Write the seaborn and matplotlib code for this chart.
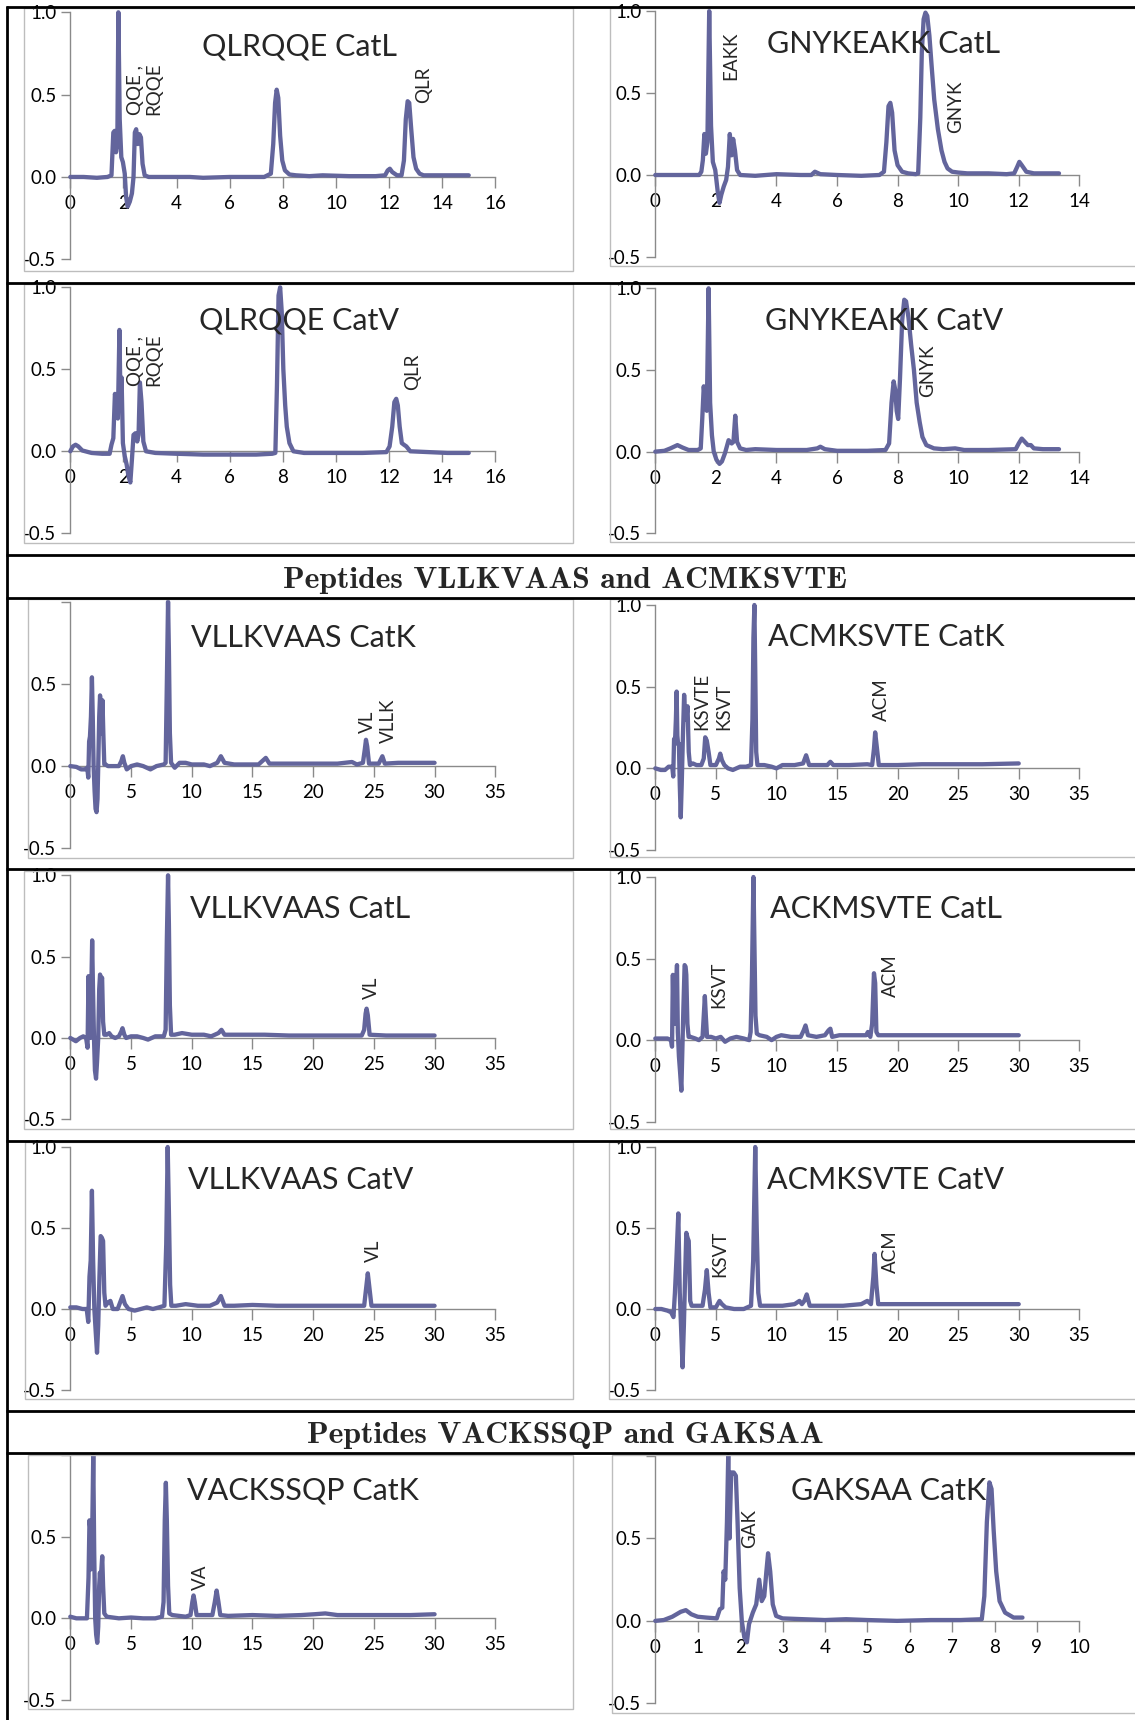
import matplotlib
matplotlib.use("Agg")
import matplotlib.pyplot as plt
from matplotlib.lines import Line2D
from matplotlib.patches import Rectangle
import pandas as pd
import seaborn as sns

# ---------------------------------------------------------------------------
# Chromatogram traces: (retention time [min], normalised absorbance)
# ---------------------------------------------------------------------------
qlrqqe_catl = [
    (0.0, 0.0), (0.5, 0.0), (1.0, -0.005), (1.4, 0.0), (1.55, 0.01), (1.62, 0.27), (1.67, 0.28),
    (1.72, 0.15), (1.77, 0.2), (1.81, 1.0), (1.86, 0.35), (1.92, 0.12), (1.98, 0.09), (2.05, 0.02),
    (2.1, -0.12), (2.16, -0.18), (2.24, -0.15), (2.32, -0.1), (2.38, 0.0), (2.43, 0.27), (2.48, 0.29),
    (2.54, 0.2), (2.6, 0.26), (2.66, 0.24), (2.72, 0.08), (2.8, 0.01), (2.95, 0.0), (3.5, 0.0),
    (4.5, 0.0), (5.0, -0.005), (6.0, 0.0), (7.3, 0.0), (7.55, 0.02), (7.64, 0.2), (7.71, 0.45),
    (7.77, 0.53), (7.83, 0.48), (7.9, 0.25), (7.98, 0.1), (8.08, 0.04), (8.25, 0.015), (8.5, 0.01),
    (9.0, 0.005), (9.5, 0.01), (10.5, 0.005), (11.5, 0.005), (11.85, 0.01), (11.95, 0.04),
    (12.03, 0.05), (12.12, 0.03), (12.3, 0.01), (12.47, 0.01), (12.56, 0.1), (12.63, 0.35),
    (12.7, 0.46), (12.76, 0.45), (12.83, 0.3), (12.92, 0.12), (13.02, 0.05), (13.15, 0.02),
    (13.3, 0.01), (14.0, 0.01), (15.0, 0.01),
]
gnykeakk_catl = [
    (0.0, 0.0), (0.6, 0.0), (1.2, 0.0), (1.45, 0.0), (1.52, 0.02), (1.57, 0.09), (1.62, 0.25),
    (1.67, 0.13), (1.72, 0.2), (1.78, 1.0), (1.84, 0.3), (1.9, 0.08), (1.98, 0.03), (2.06, -0.1),
    (2.12, -0.17), (2.18, -0.12), (2.26, -0.07), (2.34, -0.03), (2.4, 0.05), (2.46, 0.25),
    (2.52, 0.12), (2.57, 0.22), (2.63, 0.15), (2.7, 0.03), (2.8, 0.0), (3.3, -0.005), (4.0, 0.005),
    (4.8, 0.0), (5.15, 0.0), (5.27, 0.02), (5.45, 0.005), (6.0, 0.0), (6.8, -0.005), (7.4, 0.0),
    (7.55, 0.02), (7.63, 0.2), (7.7, 0.42), (7.76, 0.44), (7.82, 0.38), (7.9, 0.15), (8.0, 0.06),
    (8.15, 0.02), (8.35, 0.01), (8.6, 0.005), (8.68, 0.01), (8.75, 0.35), (8.8, 0.75), (8.86, 0.95),
    (8.92, 0.99), (8.98, 0.97), (9.05, 0.85), (9.13, 0.65), (9.21, 0.46), (9.33, 0.28), (9.45, 0.15),
    (9.55, 0.08), (9.65, 0.04), (9.8, 0.02), (10.0, 0.015), (10.3, 0.01), (11.0, 0.01),
    (11.6, 0.005), (11.85, 0.01), (11.95, 0.05), (12.02, 0.08), (12.1, 0.06), (12.25, 0.02),
    (12.5, 0.01), (13.0, 0.01), (13.33, 0.01),
]
qlrqqe_catv = [
    (0.0, 0.0), (0.1, 0.03), (0.2, 0.04), (0.3, 0.03), (0.45, 0.005), (0.8, -0.01), (1.2, -0.015),
    (1.48, -0.015), (1.55, 0.04), (1.62, 0.08), (1.68, 0.35), (1.74, 0.3), (1.79, 0.2), (1.85, 0.74),
    (1.89, 0.3), (1.93, 0.45), (1.98, 0.05), (2.05, -0.03), (2.12, -0.08), (2.19, -0.15),
    (2.26, -0.19), (2.32, -0.05), (2.38, 0.1), (2.45, 0.11), (2.52, 0.06), (2.57, 0.1), (2.62, 0.42),
    (2.68, 0.3), (2.75, 0.06), (2.85, 0.0), (3.2, -0.01), (4.0, -0.015), (5.0, -0.02), (6.0, -0.02),
    (7.0, -0.02), (7.6, -0.015), (7.72, -0.01), (7.78, 0.4), (7.84, 0.95), (7.9, 1.0), (7.96, 0.85),
    (8.02, 0.5), (8.09, 0.28), (8.15, 0.15), (8.25, 0.05), (8.4, 0.0), (8.8, -0.01), (10.0, -0.01),
    (11.0, -0.01), (11.9, -0.005), (12.02, 0.03), (12.12, 0.15), (12.2, 0.3), (12.27, 0.32),
    (12.33, 0.28), (12.4, 0.15), (12.48, 0.05), (12.56, 0.04), (12.65, 0.03), (12.8, 0.0),
    (13.5, -0.005), (14.2, -0.01), (15.0, -0.01),
]
gnykeakk_catv = [
    (0.0, 0.0), (0.3, 0.005), (0.5, 0.02), (0.73, 0.04), (0.9, 0.025), (1.1, 0.01), (1.4, 0.01),
    (1.5, 0.02), (1.55, 0.2), (1.6, 0.4), (1.65, 0.3), (1.7, 0.25), (1.76, 1.0), (1.81, 0.3),
    (1.87, 0.1), (1.93, 0.0), (2.02, -0.05), (2.12, -0.075), (2.2, -0.06), (2.3, -0.01),
    (2.42, 0.07), (2.52, 0.05), (2.58, 0.06), (2.64, 0.22), (2.7, 0.06), (2.8, 0.02), (3.0, 0.01),
    (3.3, 0.015), (4.0, 0.01), (5.0, 0.01), (5.35, 0.02), (5.45, 0.03), (5.6, 0.015), (6.0, 0.005),
    (7.0, 0.005), (7.6, 0.01), (7.72, 0.05), (7.8, 0.3), (7.87, 0.43), (7.92, 0.38), (7.97, 0.25),
    (8.02, 0.2), (8.08, 0.45), (8.15, 0.8), (8.22, 0.93), (8.28, 0.92), (8.36, 0.82), (8.45, 0.65),
    (8.54, 0.5), (8.63, 0.3), (8.73, 0.18), (8.82, 0.09), (8.95, 0.04), (9.2, 0.02), (9.5, 0.015),
    (9.9, 0.02), (10.2, 0.01), (11.0, 0.01), (11.9, 0.015), (12.0, 0.05), (12.1, 0.08), (12.2, 0.06),
    (12.3, 0.04), (12.4, 0.04), (12.5, 0.02), (12.8, 0.015), (13.33, 0.015),
]
vllkvaas_catk = [
    (0.0, 0.0), (0.5, -0.005), (0.9, -0.02), (1.2, -0.02), (1.4, -0.01), (1.48, -0.07), (1.55, 0.15),
    (1.62, 0.18), (1.7, 0.3), (1.78, 0.54), (1.85, 0.3), (1.92, 0.0), (2.0, -0.15), (2.08, -0.26),
    (2.16, -0.28), (2.24, -0.2), (2.3, 0.0), (2.38, 0.3), (2.45, 0.43), (2.52, 0.35), (2.6, 0.2),
    (2.65, 0.4), (2.72, 0.2), (2.8, 0.01), (2.9, 0.01), (3.1, 0.0), (3.5, 0.0), (4.0, 0.0),
    (4.2, 0.03), (4.33, 0.06), (4.45, 0.02), (4.65, -0.02), (5.0, 0.0), (5.5, 0.01), (6.0, 0.0),
    (6.6, -0.02), (7.1, 0.0), (7.7, 0.01), (7.85, 0.02), (7.95, 0.5), (8.05, 1.0), (8.12, 0.7),
    (8.2, 0.2), (8.3, 0.02), (8.6, -0.01), (9.0, 0.02), (9.5, 0.02), (10.0, 0.01), (11.0, 0.01),
    (11.5, 0.0), (12.1, 0.02), (12.4, 0.06), (12.7, 0.02), (13.5, 0.01), (14.5, 0.01), (15.5, 0.01),
    (16.1, 0.05), (16.4, 0.015), (18.0, 0.015), (20.0, 0.015), (22.0, 0.015), (23.2, 0.025),
    (23.6, 0.01), (24.1, 0.02), (24.25, 0.1), (24.35, 0.16), (24.45, 0.12), (24.6, 0.015),
    (25.4, 0.015), (25.7, 0.06), (25.9, 0.015), (27.0, 0.02), (28.5, 0.02), (30.0, 0.02),
]
acmksvte_catk = [
    (0.0, 0.0), (0.45, -0.01), (0.8, -0.01), (1.1, 0.01), (1.4, 0.01), (1.48, -0.05), (1.55, 0.18),
    (1.62, 0.15), (1.7, 0.3), (1.76, 0.47), (1.82, 0.2), (1.88, 0.15), (1.95, 0.15), (2.02, -0.1),
    (2.1, -0.3), (2.18, -0.1), (2.28, 0.2), (2.38, 0.45), (2.48, 0.3), (2.56, 0.3), (2.66, 0.38),
    (2.76, 0.1), (2.86, 0.02), (3.1, 0.03), (3.4, 0.02), (3.8, 0.02), (4.0, 0.06), (4.12, 0.19),
    (4.25, 0.17), (4.4, 0.1), (4.55, 0.02), (5.0, 0.02), (5.25, 0.06), (5.36, 0.09), (5.5, 0.05),
    (5.7, 0.02), (6.0, 0.0), (6.4, -0.01), (7.0, 0.01), (7.5, 0.01), (7.9, 0.02), (8.02, 0.3),
    (8.1, 0.8), (8.18, 1.0), (8.25, 0.6), (8.33, 0.1), (8.43, 0.02), (9.0, 0.02), (9.6, 0.01),
    (10.0, 0.0), (10.5, 0.02), (11.5, 0.02), (12.2, 0.03), (12.45, 0.08), (12.7, 0.02), (13.5, 0.02),
    (14.2, 0.02), (14.45, 0.04), (14.7, 0.02), (16.0, 0.02), (17.5, 0.025), (17.9, 0.02),
    (18.05, 0.12), (18.15, 0.22), (18.3, 0.12), (18.45, 0.02), (20.0, 0.02), (22.0, 0.025),
    (24.0, 0.025), (27.0, 0.025), (30.0, 0.03),
]
vllkvaas_catl = [
    (0.0, 0.0), (0.46, -0.02), (0.8, 0.0), (1.07, 0.01), (1.3, 0.0), (1.42, -0.06), (1.5, 0.38),
    (1.58, 0.05), (1.66, 0.0), (1.73, 0.3), (1.8, 0.6), (1.87, 0.3), (1.95, 0.0), (2.03, -0.2),
    (2.12, -0.25), (2.2, -0.15), (2.3, 0.0), (2.38, 0.3), (2.45, 0.39), (2.55, 0.35), (2.62, 0.37),
    (2.7, 0.1), (2.8, 0.02), (3.0, 0.02), (3.2, 0.03), (3.4, 0.01), (3.7, 0.0), (4.0, 0.01),
    (4.2, 0.04), (4.3, 0.06), (4.45, 0.02), (4.6, 0.0), (5.0, 0.01), (5.5, 0.01), (6.0, 0.0),
    (6.4, -0.01), (7.0, 0.01), (7.7, 0.01), (7.85, 0.05), (7.95, 0.6), (8.05, 1.0), (8.12, 0.7),
    (8.2, 0.2), (8.3, 0.02), (8.6, 0.02), (9.2, 0.03), (10.0, 0.02), (11.0, 0.02), (11.6, 0.01),
    (12.2, 0.03), (12.45, 0.05), (12.7, 0.02), (14.0, 0.02), (16.0, 0.02), (18.0, 0.015),
    (20.0, 0.015), (22.0, 0.015), (24.0, 0.015), (24.2, 0.05), (24.32, 0.15), (24.4, 0.18),
    (24.5, 0.14), (24.65, 0.02), (26.0, 0.015), (28.0, 0.015), (30.0, 0.015),
]
ackmsvte_catl = [
    (0.0, 0.01), (0.5, 0.01), (1.0, 0.01), (1.3, 0.0), (1.38, -0.04), (1.45, 0.4), (1.52, 0.1),
    (1.6, 0.1), (1.7, 0.3), (1.79, 0.46), (1.86, 0.05), (1.95, -0.1), (2.05, -0.2), (2.15, -0.31),
    (2.22, -0.1), (2.32, 0.2), (2.42, 0.46), (2.5, 0.45), (2.56, 0.4), (2.65, 0.1), (2.75, 0.02),
    (2.9, 0.02), (3.3, 0.01), (3.6, 0.0), (3.9, 0.02), (4.0, 0.15), (4.09, 0.27), (4.17, 0.15),
    (4.27, 0.02), (4.6, 0.02), (5.0, 0.01), (5.4, 0.02), (5.76, -0.01), (6.2, 0.01), (6.7, 0.02),
    (7.3, 0.01), (7.75, 0.0), (7.87, 0.05), (7.98, 0.4), (8.1, 1.0), (8.18, 0.6), (8.27, 0.15),
    (8.38, 0.04), (8.6, 0.03), (9.2, 0.02), (9.6, 0.0), (10.0, 0.02), (10.4, 0.03), (11.2, 0.02),
    (12.0, 0.02), (12.25, 0.06), (12.4, 0.09), (12.6, 0.03), (13.3, 0.02), (14.0, 0.03),
    (14.3, 0.06), (14.45, 0.07), (14.6, 0.02), (15.2, 0.03), (16.5, 0.03), (17.4, 0.03),
    (17.55, 0.05), (17.75, 0.02), (17.9, 0.1), (18.05, 0.41), (18.15, 0.35), (18.25, 0.05),
    (18.4, 0.03), (20.0, 0.03), (22.0, 0.03), (25.0, 0.03), (28.0, 0.03), (30.0, 0.03),
]
vllkvaas_catv = [
    (0.0, 0.01), (0.5, 0.01), (1.0, 0.0), (1.35, 0.0), (1.48, -0.08), (1.58, 0.2), (1.68, 0.3),
    (1.78, 0.73), (1.88, 0.3), (1.98, 0.0), (2.1, -0.15), (2.2, -0.27), (2.3, -0.1), (2.4, 0.2),
    (2.5, 0.45), (2.6, 0.44), (2.7, 0.42), (2.8, 0.1), (2.9, 0.02), (3.1, 0.04), (3.3, 0.05),
    (3.5, 0.0), (3.9, 0.0), (4.1, 0.04), (4.3, 0.08), (4.5, 0.03), (4.8, 0.0), (5.3, -0.01),
    (5.8, 0.0), (6.3, 0.01), (6.8, 0.0), (7.3, 0.01), (7.75, 0.02), (7.9, 0.4), (8.02, 1.0),
    (8.12, 0.6), (8.22, 0.15), (8.32, 0.02), (8.7, 0.02), (9.5, 0.03), (10.5, 0.02), (11.5, 0.02),
    (12.1, 0.04), (12.4, 0.08), (12.7, 0.02), (13.5, 0.02), (15.0, 0.025), (17.0, 0.02),
    (19.0, 0.02), (21.0, 0.02), (23.0, 0.02), (24.2, 0.02), (24.35, 0.12), (24.5, 0.22),
    (24.65, 0.12), (24.8, 0.02), (26.0, 0.02), (28.0, 0.02), (30.0, 0.02),
]
acmksvte_catv = [
    (0.0, 0.0), (0.5, 0.0), (1.0, -0.01), (1.3, -0.02), (1.5, -0.05), (1.62, 0.1), (1.74, 0.3),
    (1.9, 0.59), (2.02, 0.1), (2.12, -0.1), (2.25, -0.36), (2.36, -0.1), (2.46, 0.2), (2.56, 0.47),
    (2.66, 0.44), (2.76, 0.42), (2.88, 0.05), (3.0, 0.02), (3.5, 0.02), (3.9, 0.02), (4.1, 0.12),
    (4.25, 0.24), (4.4, 0.1), (4.55, 0.01), (5.0, 0.01), (5.3, 0.05), (5.5, 0.03), (5.8, 0.01),
    (6.5, 0.0), (7.3, 0.0), (7.9, 0.02), (8.08, 0.3), (8.25, 1.0), (8.37, 0.5), (8.5, 0.1),
    (8.65, 0.02), (9.5, 0.02), (10.5, 0.02), (11.5, 0.03), (11.9, 0.05), (12.1, 0.03), (12.3, 0.05),
    (12.5, 0.09), (12.75, 0.02), (14.0, 0.02), (15.5, 0.02), (17.0, 0.03), (17.5, 0.05),
    (17.8, 0.03), (18.0, 0.2), (18.1, 0.34), (18.25, 0.15), (18.4, 0.03), (20.0, 0.03),
    (22.0, 0.03), (25.0, 0.03), (28.0, 0.03), (30.0, 0.03),
]
vackssqp_catk = [
    (0.0, 0.01), (0.5, 0.0), (1.0, 0.0), (1.37, 0.0), (1.5, 0.25), (1.58, 0.6), (1.65, 0.55),
    (1.72, 0.3), (1.8, 0.5), (1.89, 1.0), (1.97, 0.4), (2.05, 0.0), (2.13, -0.1), (2.22, -0.15),
    (2.3, -0.05), (2.38, 0.2), (2.44, 0.28), (2.5, 0.2), (2.56, 0.3), (2.63, 0.38), (2.7, 0.2),
    (2.8, 0.03), (3.0, 0.01), (4.0, 0.0), (5.0, 0.005), (6.0, 0.0), (7.0, 0.0), (7.55, 0.01),
    (7.68, 0.1), (7.78, 0.6), (7.87, 0.83), (7.95, 0.6), (8.05, 0.2), (8.15, 0.03), (8.4, 0.02),
    (9.5, 0.01), (9.9, 0.02), (10.05, 0.1), (10.15, 0.14), (10.25, 0.1), (10.4, 0.02), (11.0, 0.02),
    (11.7, 0.02), (11.9, 0.1), (12.05, 0.17), (12.2, 0.1), (12.35, 0.02), (13.0, 0.015),
    (15.0, 0.02), (17.0, 0.015), (19.0, 0.02), (20.1, 0.025), (21.0, 0.03), (22.0, 0.02),
    (24.0, 0.02), (26.0, 0.02), (28.0, 0.02), (30.0, 0.025),
]
gaksaa_catk = [
    (0.0, 0.0), (0.2, 0.005), (0.4, 0.025), (0.6, 0.055), (0.72, 0.065), (0.85, 0.04), (1.0, 0.025),
    (1.2, 0.02), (1.45, 0.015), (1.52, 0.07), (1.58, 0.08), (1.61, 0.3), (1.65, 0.25), (1.69, 0.6),
    (1.72, 1.0), (1.75, 0.5), (1.79, 0.9), (1.85, 0.9), (1.9, 0.88), (1.94, 0.6), (1.99, 0.2),
    (2.04, 0.0), (2.1, -0.1), (2.16, -0.13), (2.21, -0.02), (2.3, 0.05), (2.38, 0.1), (2.45, 0.25),
    (2.51, 0.12), (2.57, 0.15), (2.62, 0.3), (2.66, 0.41), (2.71, 0.3), (2.77, 0.1), (2.85, 0.03),
    (3.0, 0.015), (3.5, 0.01), (4.0, 0.005), (4.5, 0.01), (5.0, 0.005), (5.7, 0.0), (6.5, 0.005),
    (7.2, 0.005), (7.7, 0.01), (7.76, 0.15), (7.82, 0.6), (7.88, 0.84), (7.93, 0.8), (7.98, 0.55),
    (8.04, 0.3), (8.12, 0.12), (8.25, 0.05), (8.45, 0.02), (8.66, 0.02),
]

# Fragment labels: (text, retention time, signal level of the label's lower end)
qlrqqe_catl_labels = [("QQE ,\nRQQE", 2.81, 0.378), ("QLR", 13.31, 0.448)]
gnykeakk_catl_labels = [("EAKK", 2.49, 0.58), ("GNYK", 9.9, 0.254)]
qlrqqe_catv_labels = [("QQE ,\nRQQE", 2.81, 0.40), ("QLR", 12.9, 0.375)]
gnykeakk_catv_labels = [("GNYK", 9.0, 0.333)]
vllkvaas_catk_labels = [("VL", 24.45, 0.203), ("VLLK", 26.19, 0.142)]
acmksvte_catk_labels = [("KSVTE", 3.85, 0.232), ("KSVT", 5.64, 0.232), ("ACM", 18.67, 0.287)]
vllkvaas_catl_labels = [("VL", 24.78, 0.239)]
ackmsvte_catl_labels = [("KSVT", 5.21, 0.198), ("ACM", 19.42, 0.266)]
vllkvaas_catv_labels = [("VL", 24.97, 0.289)]
acmksvte_catv_labels = [("KSVT", 5.3, 0.195), ("ACM", 19.44, 0.222)]
vackssqp_catk_labels = [("VA", 10.73, 0.173)]
gaksaa_catk_labels = [("GAK", 2.23, 0.443)]

# Axis ticks
ticks_16 = [0, 2, 4, 6, 8, 10, 12, 14, 16]
ticks_14 = [0, 2, 4, 6, 8, 10, 12, 14]
ticks_35 = [0, 5, 10, 15, 20, 25, 30, 35]
ticks_10 = [0, 1, 2, 3, 4, 5, 6, 7, 8, 9, 10]
y_ticks = [-0.5, 0.0, 0.5, 1.0]
y_tick_labels = ["-0.5", "0.0", "0.5", "1.0"]

section_titles = ["Peptides VLLKVAAS and ACMKSVTE", "Peptides VACKSSQP and GAKSAA"]

# ---------------------------------------------------------------------------
sns.set_style("white")
plt.rcParams["font.family"] = ["Lato", "DejaVu Sans"]

W, H = 1135, 1720
fig = plt.figure(figsize=(W / 100, H / 100), dpi=100)
fig.patch.set_facecolor("white")


def fx(px):
    return px / W


def fy(py):
    return 1 - py / H


TRACE = "#63659C"
AXIS = "#8A8A8A"
FRAME = "#BDBDBD"

LEFT_AX = (70.3, 495.3)
RIGHT_AX = (655.3, 1079.3)


def draw_panel(trace, labels, title, ticks, cols, y_one, y_neg, title_xy, frame, show_top=True):
    fl, ft, fr, fb = frame
    fig.add_artist(Rectangle((fx(fl), fy(fb)), fx(fr) - fx(fl), fy(ft) - fy(fb),
                             transform=fig.transFigure, fill=False, edgecolor=FRAME,
                             linewidth=1.0, zorder=0.5))
    x0, x1 = cols
    ax = fig.add_axes([fx(x0), fy(y_neg), fx(x1) - fx(x0), fy(y_one) - fy(y_neg)])
    ax.set_facecolor("none")
    df = pd.DataFrame(trace, columns=["time", "signal"])
    sns.lineplot(data=df, x="time", y="signal", ax=ax, color=TRACE, linewidth=3.1,
                 sort=False, estimator=None, clip_on=False, solid_joinstyle="round")
    ax.set_xlabel("")
    ax.set_ylabel("")
    ax.set_xlim(ticks[0], ticks[-1])
    ax.set_ylim(-0.5, 1.0)
    ax.set_xticks(ticks)
    ax.set_xticklabels([str(t) for t in ticks])
    ax.set_yticks(y_ticks)
    ax.set_yticklabels(y_tick_labels if show_top else y_tick_labels[:-1] + [""])
    for s in ("top", "right"):
        ax.spines[s].set_visible(False)
    ax.spines["bottom"].set_position(("data", 0))
    for s in ("left", "bottom"):
        ax.spines[s].set_color(AXIS)
        ax.spines[s].set_linewidth(1.0)
        ax.spines[s].set_zorder(1)
    ax.tick_params(axis="x", bottom=True, direction="out", length=8, width=1.0,
                   color=AXIS, pad=5, labelsize=13.5, labelcolor="black")
    ax.tick_params(axis="y", left=True, direction="out", length=6.5, width=1.0,
                   color=AXIS, pad=3.5, labelsize=13.5, labelcolor="black")
    for text, t, s in labels:
        ax.text(t, s, text, rotation=90, ha="center", va="bottom", fontsize=13.5,
                multialignment="left", linespacing=1.1)
    fig.text(fx(title_xy[0]), fy(title_xy[1]), title, ha="center", va="baseline", fontsize=22)
    return ax


# Row 1
draw_panel(qlrqqe_catl, qlrqqe_catl_labels, "QLRQQE CatL", ticks_16, LEFT_AX, 12.3, 259.3,
           (299.3, 55), (24, 7.5, 572.5, 270.7))
draw_panel(gnykeakk_catl, gnykeakk_catl_labels, "GNYKEAKK CatL", ticks_14, RIGHT_AX, 11, 257,
           (883.6, 53.3), (609.5, 7.5, 1140, 266))
# Row 2
draw_panel(qlrqqe_catv, qlrqqe_catv_labels, "QLRQQE CatV", ticks_16, LEFT_AX, 287.3, 533.3,
           (298.8, 330), (24, 284, 572.5, 543.3))
draw_panel(gnykeakk_catv, gnykeakk_catv_labels, "GNYKEAKK CatV", ticks_14, RIGHT_AX, 288.3, 533.3,
           (884.5, 330), (609.5, 284, 1140, 541.7))
# Row 3
draw_panel(vllkvaas_catk, vllkvaas_catk_labels, "VLLKVAAS CatK", ticks_35, LEFT_AX, 601.7, 848.3,
           (303.4, 647.3), (27.7, 599, 572.5, 858.3), show_top=False)
draw_panel(acmksvte_catk, acmksvte_catk_labels, "ACMKSVTE CatK", ticks_35, RIGHT_AX, 605, 850,
           (886.4, 645.7), (609.5, 599, 1140, 856.7))
# Row 4
draw_panel(vllkvaas_catl, vllkvaas_catl_labels, "VLLKVAAS CatL", ticks_35, LEFT_AX, 875.3, 1119.3,
           (300.6, 917.7), (24, 870.5, 572.5, 1129.3))
draw_panel(ackmsvte_catl, ackmsvte_catl_labels, "ACKMSVTE CatL", ticks_35, RIGHT_AX, 877, 1121.7,
           (886.4, 917.7), (609.5, 870.5, 1140, 1128.7))
# Row 5
draw_panel(vllkvaas_catv, vllkvaas_catv_labels, "VLLKVAAS CatV", ticks_35, LEFT_AX, 1147, 1390,
           (301, 1189.3), (25, 1142, 572.5, 1399.3))
draw_panel(acmksvte_catv, acmksvte_catv_labels, "ACMKSVTE CatV", ticks_35, RIGHT_AX, 1147, 1390,
           (885.5, 1189.3), (608.5, 1142, 1140, 1399.3))
# Row 7
draw_panel(vackssqp_catk, vackssqp_catk_labels, "VACKSSQP CatK", ticks_35, LEFT_AX, 1455, 1700,
           (303.4, 1500), (27.7, 1454.5, 572.5, 1709.3), show_top=False)
draw_panel(gaksaa_catk, gaksaa_catk_labels, "GAKSAA CatK", ticks_10, RIGHT_AX, 1456, 1703.3,
           (888.2, 1500), (612.4, 1454.5, 1140, 1712.7), show_top=False)

# Section headings
fig.text(fx(565.3), fy(588.3), section_titles[0], ha="center", va="baseline",
         fontfamily="cmb10", fontsize=22.8)
fig.text(fx(565.3), fy(1443.3), section_titles[1], ha="center", va="baseline",
         fontfamily="cmb10", fontsize=22.8)

# Table rules
for yy in [6.7, 282.7, 555, 597.7, 869.3, 1141, 1411, 1453.3]:
    fig.add_artist(Line2D([fx(6.2), 1.0], [fy(yy), fy(yy)], transform=fig.transFigure,
                          color="black", linewidth=2.0, zorder=10, solid_capstyle="butt"))
fig.add_artist(Line2D([fx(7.4), fx(7.4)], [fy(5.7), 0.0], transform=fig.transFigure,
                      color="black", linewidth=2.0, zorder=10, solid_capstyle="butt"))

fig.savefig("out.png", dpi=100, facecolor="white")
